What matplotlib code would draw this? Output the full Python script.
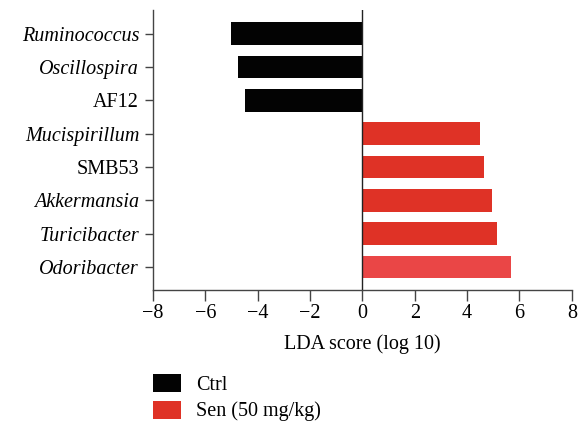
import matplotlib
matplotlib.use('Agg')
import matplotlib.pyplot as plt
from matplotlib.patches import Patch

taxa = ['Ruminococcus', 'Oscillospira', 'AF12', 'Mucispirillum',
        'SMB53', 'Akkermansia', 'Turicibacter', 'Odoribacter']
italic = [True, True, False, True, False, True, True, True]
lda = [-5.01, -4.74, -4.48, 4.49, 4.65, 4.95, 5.14, 5.68]
colors = ['#030303', '#030303', '#030303', '#DF3226',
          '#DF3226', '#DF3226', '#DF3226', '#EA4646']
xticks = [-8, -6, -4, -2, 0, 2, 4, 6, 8]
groups = ['Ctrl', 'Sen (50 mg/kg)']
group_colors = ['#030303', '#DF3226']

plt.rcParams['font.family'] = ['Liberation Serif', 'DejaVu Serif']
FS = 14.5

fig = plt.figure(figsize=(5.8, 4.26), dpi=100)
ax = fig.add_axes([0.2638, 0.3192, 0.722, 0.6573])

pos = list(range(len(taxa)))
ax.barh(pos, lda, height=0.68, color=colors, zorder=2)
ax.axvline(0, color='#222222', lw=1.0, zorder=3)

ax.set_ylim(7.69, -0.71)
ax.set_xlim(-8, 8)
ax.set_yticks(pos)
ax.set_yticklabels(taxa, fontsize=FS)
for lab, it in zip(ax.get_yticklabels(), italic):
    if it:
        lab.set_style('italic')
ax.set_xticks(xticks)
ax.set_xticklabels(['\u2212%d' % -t if t < 0 else '%d' % t for t in xticks],
                   fontsize=FS)
ax.set_xlabel('LDA score (log 10)', fontsize=FS, labelpad=8)

for s in ['top', 'right']:
    ax.spines[s].set_visible(False)
for s in ['left', 'bottom']:
    ax.spines[s].set_color('#444444')
    ax.spines[s].set_linewidth(1.0)
ax.tick_params(axis='y', length=6, width=1, color='#444444', pad=4)
ax.tick_params(axis='x', length=8, width=1, color='#444444', pad=2)

handles = [Patch(facecolor=c, label=g) for g, c in zip(groups, group_colors)]
fig.legend(handles=handles, loc='upper left', bbox_to_anchor=(0.263, 0.123),
           frameon=False, fontsize=FS, handlelength=1.4, handleheight=1.0,
           handletextpad=0.75, labelspacing=0.3, borderaxespad=0,
           borderpad=0)

fig.savefig('out.png', dpi=100)
